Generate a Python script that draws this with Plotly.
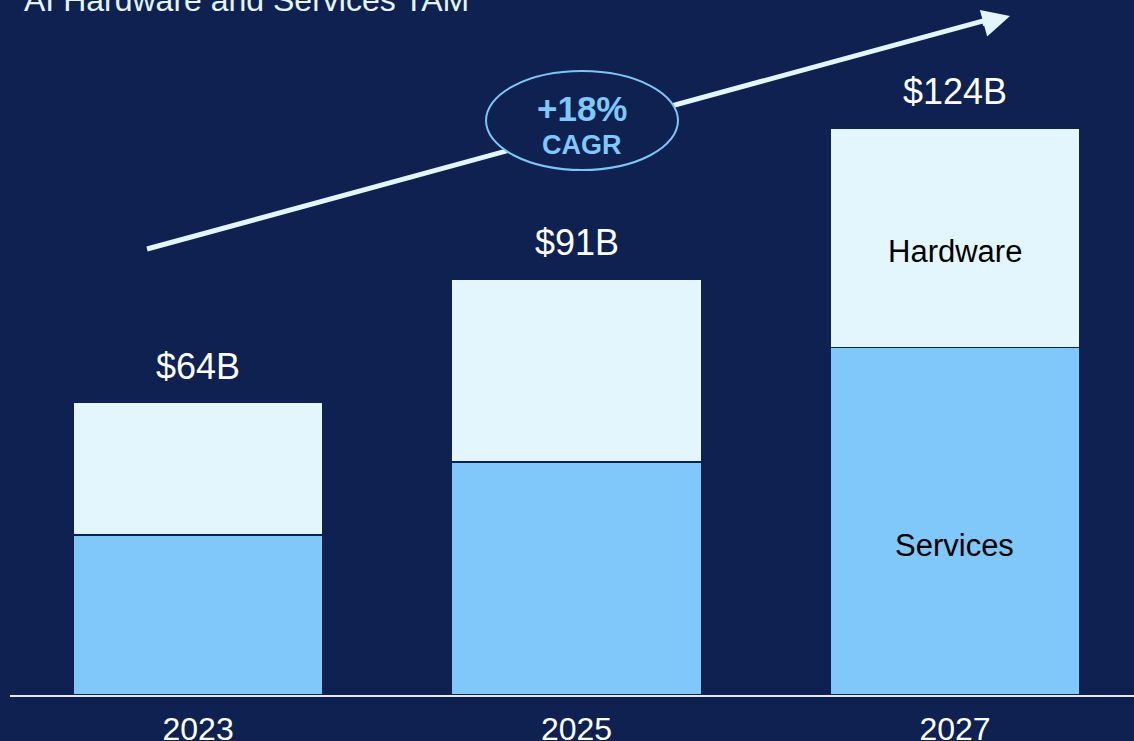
import plotly.graph_objects as go

# AI hardware and services total addressable market, $B
years = ["2023", "2025", "2027"]
services = [35, 51, 76]
hardware = [29, 40, 48]
totals = [64, 91, 124]
value_labels = ["$64B", "$91B", "$124B"]

bg = "#0E2151"
services_color = "#80C7FA"
hardware_color = "#E3F6FE"
font = "Liberation Sans, Arial, sans-serif"

fig = go.Figure()
fig.add_trace(go.Bar(x=years, y=services, name="Services", width=0.66,
                     marker=dict(color=services_color, line=dict(color=bg, width=1.5))))
fig.add_trace(go.Bar(x=years, y=hardware, name="Hardware", width=0.66,
                     marker=dict(color=hardware_color, line=dict(color=bg, width=1.5))))

# totals above each bar (category index as x)
for i, (tot, lab) in enumerate(zip(totals, value_labels)):
    fig.add_annotation(x=i, y=tot, text=lab, showarrow=False, yanchor="bottom",
                       yshift=14, font=dict(size=36, color="white", family=font))

# segment names on the last bar
last = len(years) - 1
fig.add_annotation(x=last, y=(695 - 251) / 695, yref="paper", yanchor="middle",
                   text="Hardware", showarrow=False,
                   font=dict(size=31, color="black", family=font))
fig.add_annotation(x=last, y=(695 - 545) / 695, yref="paper", yanchor="middle",
                   text="Services", showarrow=False,
                   font=dict(size=31, color="black", family=font))

# title, cut at the top edge
fig.add_annotation(x=0.0107, y=1, xref="paper", yref="paper", xanchor="left", yanchor="top",
                   yshift=20, text="AI Hardware and Services TAM", showarrow=False,
                   font=dict(size=32, color=hardware_color, family=font))

# growth arrow
fig.add_shape(type="line", xref="paper", yref="paper", x0=0.1219, y0=0.6417, x1=0.866, y1=0.970,
              line=dict(color=hardware_color, width=5))
fig.add_annotation(x=0.8897, y=0.9770, xref="paper", yref="paper", text="", showarrow=True,
                   ax=-29, ay=8, arrowhead=2, arrowsize=1.1, arrowwidth=5,
                   arrowcolor=hardware_color)

# CAGR bubble
fig.add_shape(type="circle", xref="paper", yref="paper", x0=0.4235, x1=0.5943,
              y0=0.7554, y1=0.8978, fillcolor=bg, line=dict(color="#7FC4F5", width=2))
fig.add_annotation(x=0.5089, y=0.8446, xref="paper", yref="paper", xanchor="center",
                   yanchor="middle", text="<b>+18%</b>", showarrow=False,
                   font=dict(size=35, color=services_color, family=font))
fig.add_annotation(x=0.5089, y=0.7914, xref="paper", yref="paper", xanchor="center",
                   yanchor="middle", text="<b>CAGR</b>", showarrow=False,
                   font=dict(size=27, color=services_color, family=font))

fig.update_layout(
    barmode="stack",
    width=1134, height=741,
    margin=dict(l=10, r=0, t=0, b=46),
    paper_bgcolor=bg, plot_bgcolor=bg,
    showlegend=False,
    xaxis=dict(type="category", range=[-0.497, 2.473], showline=True, linecolor="#E6E8EE",
               linewidth=2, showgrid=False, zeroline=False, ticks="", ticklabelstandoff=5,
               automargin=False, tickfont=dict(size=32, color="white", family=font)),
    yaxis=dict(range=[0, 152.1], visible=False, showgrid=False, zeroline=False,
               automargin=False),
)

fig.write_html("out.html", config={"displayModeBar": False},
               post_script="document.body.style.margin='0';"
               "document.body.style.overflow='hidden';")
